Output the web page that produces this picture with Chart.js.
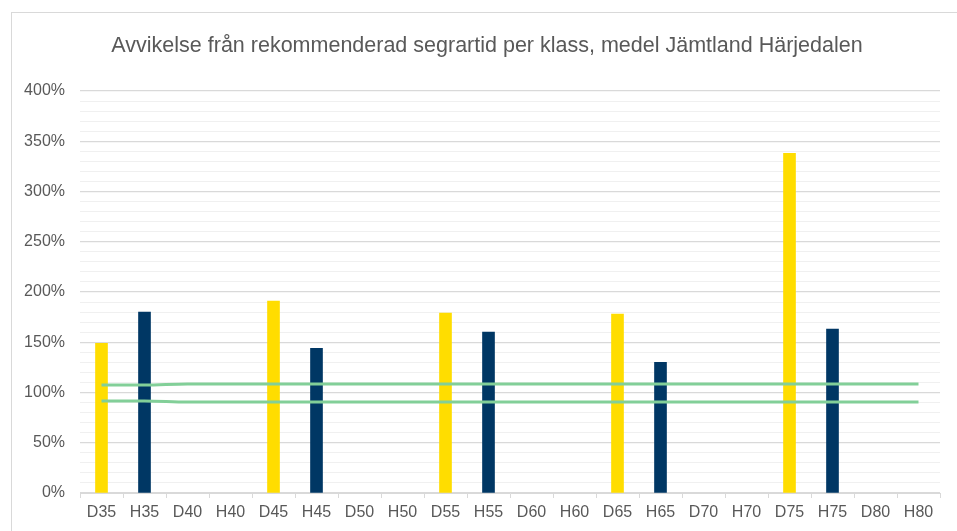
<!DOCTYPE html>
<html>
<head>
<meta charset="utf-8">
<script src="https://cdn.jsdelivr.net/npm/chart.js@4"></script>
<style>
  html, body { margin: 0; padding: 0; background: #fff; }
  #wrap { position: relative; width: 957px; height: 531px; overflow: hidden; }
  #frame { position: absolute; left: 11px; top: 12px; width: 960px; height: 540px; border: 1px solid #d9d9d9; }
  #c { position: absolute; left: 0; top: 0; }
</style>
</head>
<body>
<div id="wrap">
  <div id="frame"></div>
  <canvas id="c" width="957" height="531"></canvas>
</div>
<script>
const classes = ['D35', 'H35', 'D40', 'H40', 'D45', 'H45', 'D50', 'H50', 'D55', 'H55',
  'D60', 'H60', 'D65', 'H65', 'D70', 'H70', 'D75', 'H75', 'D80', 'H80']
// avvikelse i procent, null = ingen stapel
const damValues = [149, null, null, null, 191, null, null, null, 179, null,
  null, null, 178, null, null, null, 338, null, null, null]
const herrValues = [null, 180, null, null, null, 144, null, null, null, 160,
  null, null, null, 130, null, null, null, 163, null, null]
const upperLimit = [107.5, 107.5, 108.5, 108.5, 108.5, 108.5, 108.5, 108.5, 108.5, 108.5,
  108.5, 108.5, 108.5, 108.5, 108.5, 108.5, 108.5, 108.5, 108.5, 108.5]
const lowerLimit = [91.5, 91.5, 90.5, 90.5, 90.5, 90.5, 90.5, 90.5, 90.5, 90.5,
  90.5, 90.5, 90.5, 90.5, 90.5, 90.5, 90.5, 90.5, 90.5, 90.5]
const title = 'Avvikelse från rekommenderad segrartid per klass, medel Jämtland Härjedalen'

const YELLOW = '#FFDD00'
const NAVY = '#003764'
const GREEN = '#82CF98'
const TEXT = '#595959'
const FONT = "'Liberation Sans', Arial, sans-serif"

// titeln ritas själv så den hamnar mitt över hela ramen
const titlePlugin = {
  id: 'frameTitle',
  afterDraw (chart) {
    const ctx = chart.ctx
    ctx.save()
    ctx.fillStyle = TEXT
    ctx.font = '21.5px ' + FONT
    ctx.textAlign = 'center'
    ctx.textBaseline = 'middle'
    ctx.fillText(title, 487, 46)
    ctx.restore()
  }
}

const data = {
  labels: classes,
  datasets: [
    { type: 'bar', label: 'Dam', data: damValues, backgroundColor: YELLOW, barThickness: 12, grouped: false, order: 2 },
    { type: 'bar', label: 'Herr', data: herrValues, backgroundColor: NAVY, barThickness: 12, grouped: false, order: 2 },
    { type: 'line', label: 'Övre', data: upperLimit, borderColor: GREEN, borderWidth: 3, pointRadius: 0, cubicInterpolationMode: 'monotone', order: 0 },
    { type: 'line', label: 'Undre', data: lowerLimit, borderColor: GREEN, borderWidth: 3, pointRadius: 0, cubicInterpolationMode: 'monotone', order: 0 }
  ]
}

const config = {
  type: 'bar',
  data,
  options: {
    responsive: false,
    animation: false,
    layout: { padding: { left: 0, right: 17, top: 91, bottom: 0 } },
    plugins: {
      legend: { display: false },
      tooltip: { enabled: false },
      title: { display: false }
    },
    scales: {
      x: {
        offset: true,
        grid: { offset: true, drawOnChartArea: false, drawTicks: true, tickLength: 5, color: '#d9d9d9' },
        border: { display: true, color: '#d9d9d9' },
        ticks: { color: TEXT, font: { family: FONT, size: 16 }, padding: 5, autoSkip: false, maxRotation: 0 },
        afterFit: scale => { scale.height = 38 }
      },
      y: {
        min: 0,
        max: 400,
        border: { display: false },
        grid: {
          drawTicks: false,
          color: ctx => (ctx.tick.value % 50 === 0 ? '#d9d9d9' : '#f0f0f0'),
          lineWidth: ctx => (ctx.tick.value % 50 === 0 ? 1.3 : 1)
        },
        ticks: {
          stepSize: 10,
          autoSkip: false,
          padding: 15,
          color: TEXT,
          font: { family: FONT, size: 16 },
          callback: v => (v % 50 === 0 ? v + '%' : '')
        },
        afterFit: scale => { scale.width = 80 }
      }
    }
  },
  plugins: [titlePlugin]
}

new Chart(document.getElementById('c').getContext('2d'), config)
</script>
</body>
</html>
